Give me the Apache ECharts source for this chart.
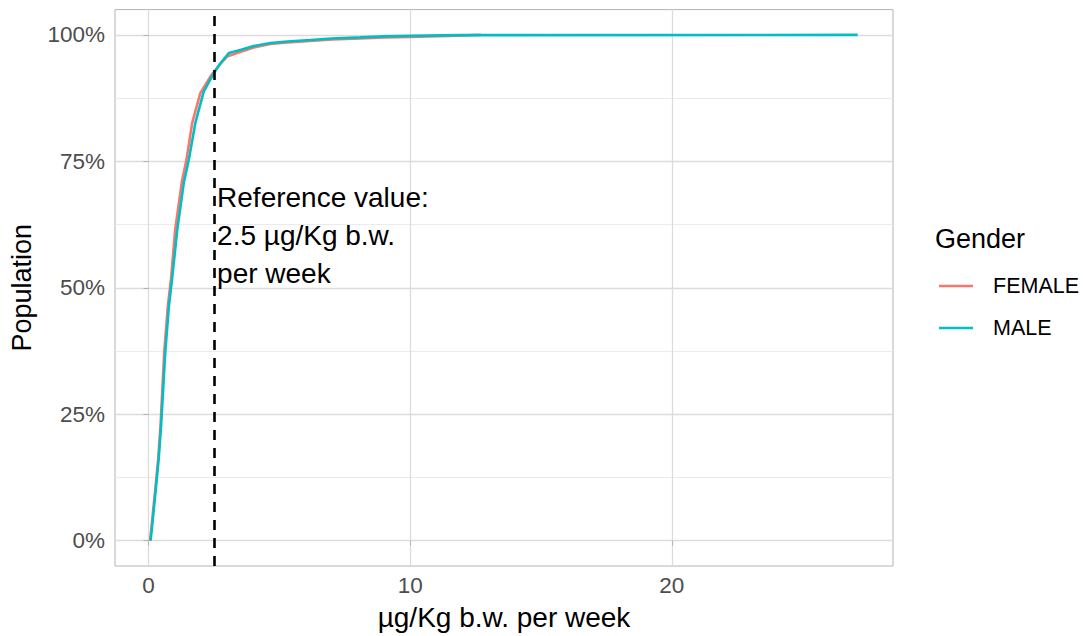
<!DOCTYPE html>
<html>
<head>
<meta charset="utf-8">
<script src="https://cdn.jsdelivr.net/npm/echarts@6/dist/echarts.min.js"></script>
<style>
html,body{margin:0;padding:0;background:#fff;}
#chart{width:1083px;height:636px;}
</style>
</head>
<body>
<div id="chart"></div>
<script>
// ---- data ----
const femaleX = [0.06, 0.12, 0.25, 0.37, 0.46, 0.6, 0.74, 0.86, 1.02, 1.27, 1.45, 1.67, 1.98, 2.37, 2.7, 3.0, 3.5, 4.02, 4.66, 5.3, 6.18, 7.0, 8.09, 9.0, 10.0, 11.5, 12.7];
const femaleY = [0, 3, 9.7, 16.2, 22.7, 37.2, 46.4, 51.7, 61.5, 70.8, 75.3, 82.6, 88.5, 91.8, 94.0, 95.7, 96.6, 97.5, 98.2, 98.5, 98.8, 99.1, 99.3, 99.5, 99.6, 99.8, 100];
const maleX = [0.08, 0.14, 0.27, 0.39, 0.48, 0.64, 0.78, 0.9, 1.1, 1.35, 1.54, 1.79, 2.11, 2.49, 2.75, 3.07, 3.51, 4.02, 4.66, 5.3, 6.18, 7.0, 8.09, 9.0, 10.0, 11.9, 27.1];
const maleY = [0, 3, 9.7, 16.2, 22.7, 37.2, 46.4, 51.7, 61.5, 70.8, 75.3, 82.6, 88.8, 92.4, 94.4, 96.4, 97.0, 97.8, 98.4, 98.7, 99.0, 99.3, 99.5, 99.7, 99.8, 99.95, 100];
const seriesNames = ['FEMALE', 'MALE'];
const xTicks = [0, 10, 20];
const yTicks = [0, 25, 50, 75, 100];
const yMinorTicks = [12.5, 37.5, 62.5, 87.5];
const referenceValue = 2.5;
const annotationLines = ['Reference value:', '2.5 µg/Kg b.w.', 'per week'];
const annotationAt = [2.62, 60.4];
const xRange = [-1.28, 28.45];
const yRange = [-5, 105];

// ---- styles ----
const colors = ['#F8766D', '#00BFC4'];
const fontFam = '"Liberation Sans", "DejaVu Sans", sans-serif';
const bigFont = 28;
const smallFont = 22.5;

const pairs = (xs, ys) => xs.map((x, i) => [x, ys[i]]);

const chart = echarts.init(document.getElementById('chart'), null, {renderer: 'svg'});
chart.setOption({
  animation: false,
  backgroundColor: '#ffffff',
  textStyle: {fontFamily: fontFam},
  title: {
    text: 'Gender', left: 930, top: 220,
    textStyle: {fontFamily: fontFam, fontSize: bigFont - 1, fontWeight: 'normal', color: '#000'}
  },
  legend: {
    data: seriesNames, orient: 'vertical', left: 934, top: 270,
    icon: 'rect', itemWidth: 34, itemHeight: 2.5, itemGap: 20,
    textStyle: {fontFamily: fontFam, fontSize: smallFont - 1, color: '#000', padding: [0, 0, 0, 15]}
  },
  grid: {
    left: 115, right: 190, top: 9.6, bottom: 68.6, show: true,
    borderColor: '#b3b3b3', borderWidth: 1, backgroundColor: '#fff', containLabel: false
  },
  xAxis: {
    type: 'value', min: xRange[0], max: xRange[1],
    name: 'µg/Kg b.w. per week', nameLocation: 'middle', nameGap: 37,
    nameTextStyle: {fontFamily: fontFam, fontSize: bigFont, color: '#000'},
    axisLine: {show: false},
    axisTick: {show: true, customValues: xTicks, length: 5, lineStyle: {color: '#b3b3b3', width: 1}},
    axisLabel: {customValues: xTicks, fontSize: smallFont, color: '#4d4d4d', margin: 8, fontFamily: fontFam},
    splitLine: {show: true, lineStyle: {color: '#dcdcdc', width: 1.3}}
  },
  yAxis: [{
    type: 'value', min: yRange[0], max: yRange[1],
    name: 'Population', nameLocation: 'middle', nameGap: 80,
    nameTextStyle: {fontFamily: fontFam, fontSize: bigFont - 1, color: '#000'},
    axisLine: {show: false},
    axisTick: {show: true, customValues: yTicks, length: 5, lineStyle: {color: '#b3b3b3', width: 1}},
    axisLabel: {customValues: yTicks, fontSize: smallFont, color: '#4d4d4d', margin: 10, fontFamily: fontFam,
      formatter: v => v + '%'},
    splitLine: {show: true, lineStyle: {color: '#dcdcdc', width: 1.3}}
  }, {
    type: 'value', min: yRange[0], max: yRange[1], position: 'left',
    axisLine: {show: false},
    axisTick: {show: false, customValues: yMinorTicks},
    axisLabel: {show: false, customValues: yMinorTicks},
    splitLine: {show: true, lineStyle: {color: '#ebebeb', width: 1}}
  }],
  series: [
    {
      name: seriesNames[0], type: 'line', data: pairs(femaleX, femaleY),
      showSymbol: false, symbol: 'none', lineStyle: {color: colors[0], width: 2.6}, itemStyle: {color: colors[0]},
      z: 3,
      markLine: {
        silent: true, symbol: 'none', label: {show: false},
        lineStyle: {color: '#000', type: [10, 8], width: 2.6},
        data: [{xAxis: referenceValue}]
      }
    },
    {
      name: seriesNames[1], type: 'line', data: pairs(maleX, maleY),
      showSymbol: false, symbol: 'none', lineStyle: {color: colors[1], width: 2.6}, itemStyle: {color: colors[1]},
      z: 4
    },
    {
      name: 'annotation', type: 'scatter', data: [annotationAt], symbolSize: 0, silent: true,
      itemStyle: {opacity: 1},
      label: {
        show: true, position: 'right', distance: 0, formatter: annotationLines.join('\n'),
        fontFamily: fontFam, fontSize: bigFont, color: '#000000', opacity: 1, lineHeight: 38, align: 'left'
      },
      z: 5
    }
  ]
});
</script>
</body>
</html>
